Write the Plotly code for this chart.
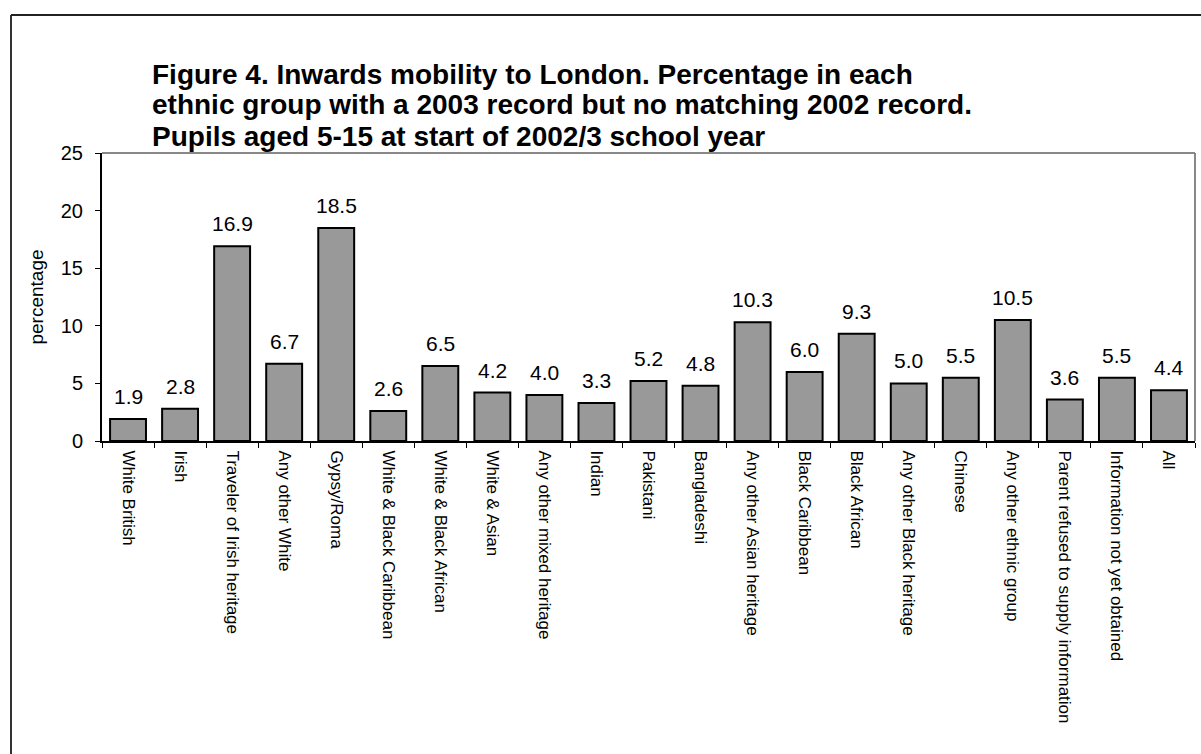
import plotly.graph_objects as go

# Ethnic groups and percentage with a 2003 record but no matching 2002 record
groups = [
    "White British", "Irish", "Traveler of Irish heritage", "Any other White",
    "Gypsy/Roma", "White & Black Caribbean", "White & Black African",
    "White & Asian", "Any other mixed heritage", "Indian", "Pakistani",
    "Bangladeshi", "Any other Asian heritage", "Black Caribbean",
    "Black African", "Any other Black heritage", "Chinese",
    "Any other ethnic group", "Parent refused to supply information",
    "Information not yet obtained", "All",
]
percentages = [1.9, 2.8, 16.9, 6.7, 18.5, 2.6, 6.5, 4.2, 4.0, 3.3, 5.2,
               4.8, 10.3, 6.0, 9.3, 5.0, 5.5, 10.5, 3.6, 5.5, 4.4]
y_ticks = [0, 5, 10, 15, 20, 25]

title_lines = [
    "Figure 4. Inwards mobility to London. Percentage in each",
    "ethnic group with a 2003 record but no matching 2002 record.",
    "Pupils aged 5-15 at start of 2002/3 school year",
]

W, H = 1201, 754
L, R, T, B = 102, 6, 153, 313
plot_w = W - L - R
plot_h = H - T - B


def px_x(px):
    return (px - L) / plot_w


def px_y(py):
    return (H - B - py) / plot_h


FONT = "Liberation Sans, Arial, sans-serif"

fig = go.Figure(
    go.Bar(
        x=groups,
        y=percentages,
        marker=dict(color="#999999", line=dict(color="#000000", width=2)),
        width=0.69,
        hoverinfo="x+y",
    )
)

# value labels above each bar
annotations = [
    dict(x=g, y=v, text=f"{v:.1f}", xref="x", yref="y", showarrow=False,
         yanchor="bottom", yshift=9, font=dict(size=21, color="#000000", family=FONT))
    for g, v in zip(groups, percentages)
]

# three-line bold title, one annotation per line for even spacing
for i, line in enumerate(title_lines):
    annotations.append(
        dict(x=px_x(150), y=px_y(74 + 31 * i), xref="paper", yref="paper",
             xanchor="left", yanchor="middle", align="left", showarrow=False,
             text=f"<b>{line}</b>",
             font=dict(size=28, color="#000000", family=FONT))
    )

shapes = [
    # chart frame (left and top edges)
    dict(type="line", xref="paper", yref="paper", x0=px_x(11), x1=px_x(11),
         y0=px_y(15), y1=px_y(H + 5), line=dict(color="#333333", width=2)),
    dict(type="line", xref="paper", yref="paper", x0=px_x(11), x1=px_x(W + 5),
         y0=px_y(15), y1=px_y(15), line=dict(color="#222222", width=2)),
    # plot area top and right border
    dict(type="line", xref="paper", yref="paper", x0=0, x1=1, y0=1, y1=1,
         line=dict(color="#888888", width=2)),
    dict(type="line", xref="paper", yref="paper", x0=1, x1=1, y0=0, y1=1,
         line=dict(color="#888888", width=2)),
]

fig.update_layout(
    width=W,
    height=H,
    margin=dict(l=L, r=R, t=T, b=B),
    paper_bgcolor="#ffffff",
    plot_bgcolor="#ffffff",
    font=dict(family=FONT, color="#000000"),
    showlegend=False,
    annotations=annotations,
    shapes=shapes,
    bargap=0.31,
)

fig.update_xaxes(
    type="category",
    tickangle=90,
    tickfont=dict(size=17, family=FONT, color="#000000"),
    ticks="outside",
    tickson="boundaries",
    ticklen=5,
    tickcolor="#000000",
    ticklabelstandoff=4,
    showline=True,
    linecolor="#000000",
    linewidth=2,
    showgrid=False,
    range=[-0.5, len(groups) - 0.5],
)

fig.update_yaxes(
    range=[0, 25],
    tickvals=y_ticks,
    tickfont=dict(size=20, family=FONT, color="#000000"),
    ticks="outside",
    ticklen=5,
    tickcolor="#000000",
    ticklabelstandoff=8,
    showline=True,
    linecolor="#000000",
    linewidth=2,
    showgrid=False,
    zeroline=False,
    title=dict(text="percentage", font=dict(size=19, family=FONT, color="#000000"),
               standoff=12),
)

fig.write_html("out.html")
